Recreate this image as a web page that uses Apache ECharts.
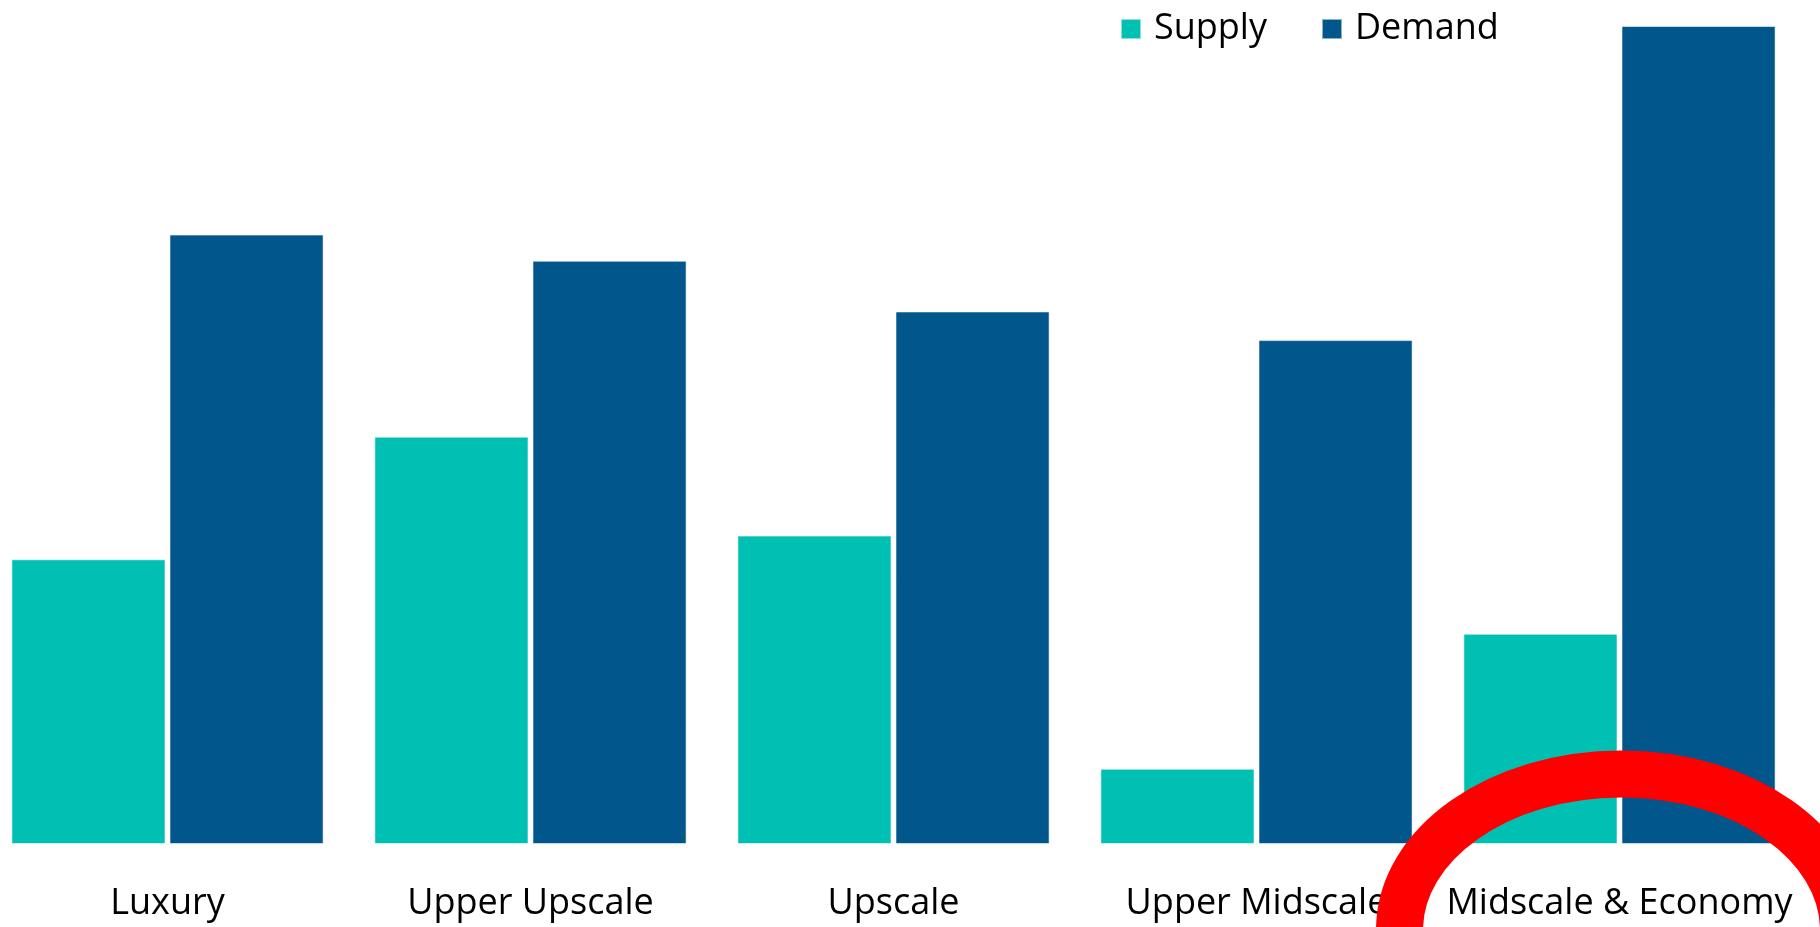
<!DOCTYPE html>
<html>
<head>
<meta charset="utf-8">
<title>Supply vs Demand by Chain Scale</title>
<script src="https://cdn.jsdelivr.net/npm/echarts@6/dist/echarts.min.js"></script>
<style>
  html, body { margin: 0; padding: 0; background: #ffffff; overflow: hidden; width: 1820px; height: 927px; position: relative; }
  /* the plot starts a little left of the page edge, so the canvas is shifted */
  #chart { position: absolute; left: -14px; top: 0; width: 1834px; height: 927px; }
</style>
</head>
<body>
<div id="chart"></div>
<script>
// Chain-scale segments along the x axis
const categories = ['Luxury', 'Upper Upscale', 'Upscale', 'Upper Midscale', 'Midscale & Economy'];
// Series values (same scale for both series)
const supplyValues = [3.48, 4.98, 3.77, 0.92, 2.57];
const demandValues = [7.45, 7.13, 6.51, 6.16, 10.0];
const seriesNames = ['Supply', 'Demand'];
// Segment that gets the red highlight ring
const highlightCategory = 'Midscale & Economy';

const FONT = '"Open Sans", "Noto Sans", sans-serif';
const SUPPLY_COLOR = '#00BFB3';
const DEMAND_COLOR = '#01568C';

const chart = echarts.init(document.getElementById('chart'), null, { renderer: 'canvas' });

const option = {
  animation: false,
  backgroundColor: '#ffffff',
  grid: { left: 0, right: 19, top: 26, bottom: 83, containLabel: false },
  legend: {
    data: seriesNames,
    left: 1129,
    top: 6,
    itemWidth: 20,
    itemHeight: 20,
    itemGap: 54,
    icon: 'rect',
    textStyle: { fontFamily: FONT, fontSize: 36, color: '#000', padding: [0, 0, 0, 8] }
  },
  xAxis: {
    type: 'category',
    data: categories,
    axisLine: { show: false },
    axisTick: { show: false },
    splitLine: { show: false },
    axisLabel: { fontFamily: FONT, fontSize: 36, color: '#000', margin: 42, interval: 0 }
  },
  yAxis: {
    type: 'value',
    min: 0,
    max: 10,
    show: false,
    splitLine: { show: false }
  },
  series: [
    {
      name: seriesNames[0],
      type: 'bar',
      data: supplyValues,
      barGap: '2.6%',
      barCategoryGap: '14%',
      itemStyle: { color: SUPPLY_COLOR, borderColor: 'rgba(255,255,255,0.55)', borderWidth: 1 }
    },
    {
      name: seriesNames[1],
      type: 'bar',
      data: demandValues,
      barGap: '2.6%',
      barCategoryGap: '14%',
      itemStyle: { color: DEMAND_COLOR, borderColor: 'rgba(255,255,255,0.55)', borderWidth: 1 }
    }
  ]
};

chart.setOption(option);

// Red ring around the highlighted segment, placed from the axis scale
const cx = chart.convertToPixel({ xAxisIndex: 0 }, highlightCategory);
const baseY = chart.convertToPixel({ yAxisIndex: 0 }, 0);
chart.setOption({
  graphic: [{
    type: 'ellipse',
    z: 100,
    silent: true,
    shape: { cx: cx + 2, cy: baseY + 86, rx: 222, ry: 156 },
    style: { fill: 'none', stroke: '#FF0000', lineWidth: 47 }
  }]
});
</script>
</body>
</html>
